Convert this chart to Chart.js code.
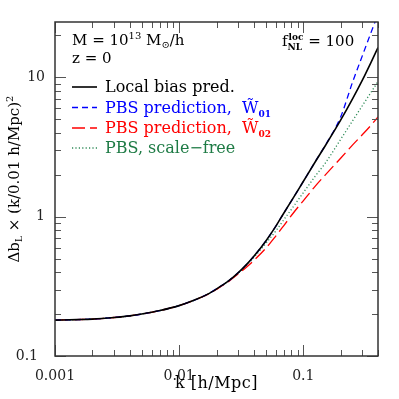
<!DOCTYPE html>
<html><head><meta charset="utf-8">
<script src="https://cdn.jsdelivr.net/npm/chart.js@4"></script>
<style>html,body{margin:0;padding:0;background:#fff}</style>
</head><body>
<canvas id="c" width="399" height="399" style="display:block;width:399px;height:399px"></canvas>
<script>
// ---- data ----
const kValues = [0.001,0.0015,0.002,0.003,0.004,0.005,0.007,0.01,0.013,0.017,0.02,0.025,0.03,0.035,0.04,0.05,0.06,0.07,0.085,0.1,0.125,0.15,0.2,0.25,0.3,0.35,0.4];
const localBias = [0.181,0.1825,0.184,0.189,0.194,0.200,0.212,0.230,0.250,0.278,0.303,0.346,0.397,0.455,0.52,0.67,0.852,1.068,1.41,1.79,2.48,3.22,4.93,7.04,9.6,12.73,16.4];
const pbsW01 = [0.181,0.1825,0.184,0.189,0.194,0.200,0.212,0.230,0.250,0.278,0.303,0.346,0.397,0.455,0.52,0.67,0.852,1.068,1.41,1.79,2.49,3.24,5.2,9.3,14.4,20.8,28.5];
const pbsW02 = [0.181,0.1825,0.184,0.189,0.194,0.200,0.212,0.230,0.250,0.277,0.301,0.342,0.39,0.435,0.485,0.595,0.726,0.868,1.09,1.30,1.66,1.99,2.63,3.28,3.89,4.52,5.2];
const pbsScaleFree = [0.181,0.1825,0.184,0.189,0.194,0.200,0.212,0.230,0.250,0.278,0.303,0.346,0.395,0.45,0.51,0.645,0.79,0.956,1.213,1.486,1.959,2.415,3.59,4.89,6.29,7.78,9.35];
const xTickValues = [0.001,0.002,0.003,0.004,0.005,0.006,0.007,0.008,0.009,0.01,0.02,0.03,0.04,0.05,0.06,0.07,0.08,0.09,0.1,0.2,0.3,0.4];
const yTickValues = [0.1,0.2,0.3,0.4,0.5,0.6,0.7,0.8,0.9,1,2,3,4,5,6,7,8,9,10,20];
const xTickLabels = ['0.001','0.01','0.1'];
const yTickLabels = ['0.1','1','10'];
const seriesNames = ['Local bias pred.','PBS prediction, ','PBS prediction, ','PBS, scale\u2212free'];
const seriesSuffix = ['', '01', '02', ''];

const FONT = '"DejaVu Serif", "Liberation Serif", serif';
const isDecade = v => Math.abs(Math.log10(v) - Math.round(Math.log10(v))) < 1e-6;
const pts = arr => kValues.map((k,i)=>({x:k, y:arr[i]}));

function drawRich(ctx, parts, x, y){
  let cx = x;
  for (const p of parts){
    ctx.font = (p.bold?'bold ':'') + p.size + 'px ' + FONT;
    ctx.fillStyle = p.color || '#000';
    ctx.fillText(p.t, cx, y + (p.dy||0));
    cx += ctx.measureText(p.t).width + (p.gap||0);
  }
  return cx - x;
}
function richWidth(ctx, parts){
  let w = 0;
  for (const p of parts){ ctx.font = (p.bold?'bold ':'') + p.size + 'px ' + FONT; w += ctx.measureText(p.t).width + (p.gap||0); }
  return w;
}

const decor = {
  id:'decor',
  afterDraw(chart){
    const ctx = chart.ctx, a = chart.chartArea, xs = chart.scales.x, ys = chart.scales.y;
    ctx.save();
    // inward ticks on all four sides
    ctx.strokeStyle = '#555'; ctx.lineWidth = 1;
    ctx.beginPath();
    for (const v of xTickValues){
      const px = Math.round(xs.getPixelForValue(v)) + 0.5;
      const len = isDecade(v) ? 11 : 6;
      ctx.moveTo(px, a.bottom); ctx.lineTo(px, a.bottom - len);
      ctx.moveTo(px, a.top); ctx.lineTo(px, a.top + len);
    }
    for (const v of yTickValues){
      const py = Math.round(ys.getPixelForValue(v)) + 0.5;
      const len = isDecade(v) ? 11 : 6;
      ctx.moveTo(a.left, py); ctx.lineTo(a.left + len, py);
      ctx.moveTo(a.right, py); ctx.lineTo(a.right - len, py);
    }
    ctx.stroke();
    // frame
    ctx.strokeStyle = '#333'; ctx.lineWidth = 1.5;
    ctx.strokeRect(a.left, a.top, a.right - a.left, a.bottom - a.top);

    ctx.textBaseline = 'alphabetic'; ctx.textAlign = 'left';
    // annotations
    drawRich(ctx, [{t:'M = 10',size:15},{t:'13',size:10,dy:-6},{t:' M',size:15},{t:'\u2299',size:10,dy:3},{t:'/h',size:15}], 72, 45);
    drawRich(ctx, [{t:'z = 0',size:15}], 72, 63);
    // f_NL^loc = 100
    ctx.fillStyle = '#000';
    ctx.font = '15px ' + FONT; ctx.fillText('f', 282, 46);
    const fw = ctx.measureText('f').width;
    ctx.font = 'bold 9px ' + FONT;
    ctx.fillText('loc', 282 + fw + 1, 40);
    ctx.fillText('NL', 282 + fw + 0, 50);
    const sw = Math.max(ctx.measureText('loc').width, ctx.measureText('NL').width);
    ctx.font = '15px ' + FONT;
    ctx.fillText(' = 100', 282 + fw + sw + 1, 46);

    // legend
    const rows = [87, 107.5, 128, 148];
    chart.data.datasets.forEach((ds, i) => {
      const y = rows[i];
      ctx.strokeStyle = ds.borderColor; ctx.lineWidth = ds.borderWidth;
      ctx.setLineDash(ds.borderDash || []);
      ctx.beginPath(); ctx.moveTo(72, y); ctx.lineTo(97, y); ctx.stroke();
      ctx.setLineDash([]);
      const parts = [{t:seriesNames[i], size:16, color:ds.textColor}];
      if (seriesSuffix[i]) {
        parts.push({t:' W\u0303', size:16, color:ds.textColor});
        parts.push({t:seriesSuffix[i], size:9, dy:4, color:ds.textColor, bold:true});
      }
      drawRich(ctx, parts, 105, y + 5);
    });

    // axis titles
    ctx.fillStyle = '#000';
    ctx.letterSpacing = '0.5px';
    const xt = [{t:'k [h/Mpc]', size:16}];
    const xw = richWidth(ctx, xt);
    drawRich(ctx, xt, (a.left + a.right)/2 - xw/2, 388);
    ctx.letterSpacing = '0px';
    ctx.translate(19, 179); ctx.rotate(-Math.PI/2);
    const yt = [{t:'\u0394b',size:15},{t:'L',size:9,dy:3},{t:' \u00d7 (k/0.01 h/Mpc)',size:15},{t:'2',size:10,dy:-6}];
    const yw = richWidth(ctx, yt);
    drawRich(ctx, yt, -yw/2, 0);
    ctx.restore();
  }
};

new Chart(document.getElementById('c'), {
  type:'line',
  data:{ datasets:[
    {label:seriesNames[0], data:pts(localBias), borderColor:'#000', textColor:'#000', borderWidth:1.6},
    {label:seriesNames[1]+'W01', data:pts(pbsW01), borderColor:'#0000ff', textColor:'#0000ff', borderWidth:1.3, borderDash:[6,4]},
    {label:seriesNames[2]+'W02', data:pts(pbsW02), borderColor:'#ff0000', textColor:'#ff0000', borderWidth:1.3, borderDash:[13,5]},
    {label:seriesNames[3], data:pts(pbsScaleFree), borderColor:'#2e8b57', textColor:'#1e7b45', borderWidth:1.3, borderDash:[1.2,2.2]}
  ]},
  options:{
    responsive:false, animation:false,
    layout:{padding:{top:22, right:21, left:0, bottom:0}},
    elements:{point:{radius:0}, line:{cubicInterpolationMode:'monotone', fill:false}},
    plugins:{legend:{display:false}, tooltip:{enabled:false}},
    scales:{
      x:{ type:'logarithmic', min:0.001, max:0.4,
        grid:{display:false, drawTicks:false}, border:{display:false},
        afterBuildTicks: s => { s.ticks = xTickValues.map(v=>({value:v})); },
        afterFit: s => { s.height = 43; },
        ticks:{ autoSkip:false, maxRotation:0, padding:12, color:'#222', font:{family:FONT, size:14},
          callback: v => { const l = xTickLabels.find(t => Math.abs(parseFloat(t)-v) < 1e-9); return l || ''; } }
      },
      y:{ type:'logarithmic', min:0.1, max:25,
        grid:{display:false, drawTicks:false}, border:{display:false},
        afterBuildTicks: s => { s.ticks = yTickValues.map(v=>({value:v})); },
        afterFit: s => { s.width = 55; },
        ticks:{ autoSkip:false, padding:10, color:'#222', font:{family:FONT, size:14},
          callback: v => { const l = yTickLabels.find(t => Math.abs(parseFloat(t)-v) < 1e-9); if (l === '0.1') return '0.1\u2002'; return l || ''; } }
      }
    }
  },
  plugins:[decor]
});
</script>
</body></html>
